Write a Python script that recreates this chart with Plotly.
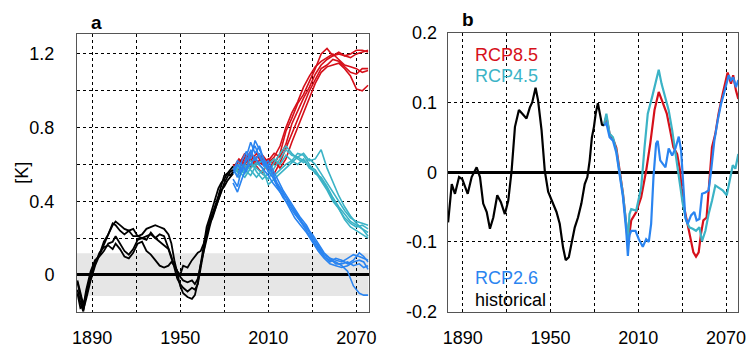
import plotly.graph_objects as go

# ---------------- Panel a data ----------------
hist_years = [1880, 1882, 1884, 1886, 1889, 1892, 1895, 1898, 1901, 1904, 1906, 1909, 1912, 1915,
              1918, 1921, 1924, 1927, 1930, 1933, 1936, 1939, 1942, 1944, 1946, 1948, 1950, 1952,
              1955, 1958, 1960, 1962, 1964, 1966, 1968, 1970, 1972, 1974, 1976, 1978, 1980, 1982,
              1984, 1986]
hist_m1 = [-0.04, -0.12, -0.19, -0.13, -0.03, 0.05, 0.11, 0.16, 0.22, 0.27, 0.29, 0.27, 0.25, 0.24,
           0.25, 0.21, 0.22, 0.25, 0.26, 0.27, 0.26, 0.25, 0.22, 0.17, 0.08, 0.00, -0.06, -0.10,
           -0.12, -0.13, -0.11, -0.04, 0.06, 0.17, 0.26, 0.31, 0.36, 0.42, 0.47, 0.50, 0.52, 0.55,
           0.57, 0.59]
hist_m2 = [-0.08, -0.15, -0.20, -0.10, 0.00, 0.07, 0.11, 0.18, 0.22, 0.28, 0.27, 0.24, 0.22, 0.24,
           0.21, 0.21, 0.20, 0.21, 0.22, 0.20, 0.22, 0.21, 0.15, 0.10, 0.04, -0.02, -0.05, -0.07,
           -0.09, -0.07, -0.08, -0.05, 0.04, 0.14, 0.22, 0.29, 0.33, 0.38, 0.43, 0.49, 0.54, 0.55,
           0.54, 0.56]
hist_m3 = [-0.10, -0.18, -0.17, -0.08, 0.02, 0.08, 0.10, 0.13, 0.17, 0.18, 0.21, 0.17, 0.13, 0.11,
           0.14, 0.19, 0.20, 0.19, 0.23, 0.20, 0.18, 0.16, 0.14, 0.09, 0.05, 0.02, -0.01, -0.03,
           -0.04, -0.03, -0.05, -0.02, 0.06, 0.13, 0.20, 0.26, 0.32, 0.36, 0.40, 0.45, 0.50, 0.53,
           0.56, 0.57]
hist_m4 = [-0.03, -0.10, -0.16, -0.11, -0.01, 0.06, 0.12, 0.15, 0.16, 0.14, 0.17, 0.14, 0.10, 0.09,
           0.12, 0.17, 0.18, 0.13, 0.11, 0.08, 0.05, 0.04, 0.05, 0.07, 0.05, 0.02, 0.00, 0.05,
           0.04, 0.08, 0.10, 0.12, 0.13, 0.17, 0.23, 0.28, 0.31, 0.36, 0.42, 0.46, 0.48, 0.51,
           0.53, 0.55]

proj_years = [1986, 1990, 1994, 1998, 2002, 2006, 2010, 2014, 2018, 2022, 2026, 2030, 2034, 2038,
              2042, 2046, 2050, 2054, 2058, 2062, 2066, 2070, 2074, 2078]
rcp85_m1 = [0.58, 0.63, 0.60, 0.65, 0.62, 0.60, 0.63, 0.60, 0.66, 0.78, 0.85, 0.93, 0.98, 1.05,
            1.12, 1.20, 1.23, 1.19, 1.20, 1.19, 1.18, 1.20, 1.21, 1.22]
rcp85_m2 = [0.56, 0.60, 0.66, 0.58, 0.64, 0.63, 0.57, 0.62, 0.58, 0.63, 0.72, 0.80, 0.87, 0.96,
            1.04, 1.10, 1.13, 1.14, 1.15, 1.12, 1.08, 1.01, 1.00, 1.03]
rcp85_m3 = [0.60, 0.55, 0.62, 0.67, 0.60, 0.65, 0.61, 0.64, 0.70, 0.80, 0.88, 0.94, 1.02, 1.08,
            1.13, 1.16, 1.18, 1.20, 1.17, 1.14, 1.13, 1.12, 1.10, 1.11]
rcp85_m4 = [0.57, 0.62, 0.58, 0.63, 0.59, 0.55, 0.62, 0.66, 0.64, 0.71, 0.82, 0.89, 0.96, 1.02,
            1.09, 1.14, 1.17, 1.19, 1.21, 1.19, 1.20, 1.22, 1.22, 1.21]
rcp85_m5 = [0.59, 0.57, 0.64, 0.62, 0.66, 0.60, 0.59, 0.55, 0.61, 0.69, 0.77, 0.84, 0.92, 1.00,
            1.06, 1.12, 1.14, 1.17, 1.16, 1.13, 1.10, 1.09, 1.12, 1.12]

rcp45_m1 = [0.56, 0.58, 0.55, 0.60, 0.58, 0.55, 0.52, 0.58, 0.63, 0.68, 0.65, 0.64, 0.66, 0.62,
            0.63, 0.68, 0.58, 0.50, 0.43, 0.37, 0.32, 0.28, 0.25, 0.21]
rcp45_m2 = [0.58, 0.55, 0.60, 0.57, 0.53, 0.57, 0.60, 0.63, 0.60, 0.65, 0.62, 0.66, 0.65, 0.60,
            0.55, 0.53, 0.48, 0.42, 0.37, 0.33, 0.29, 0.27, 0.25, 0.23]
rcp45_m3 = [0.55, 0.60, 0.57, 0.54, 0.60, 0.62, 0.56, 0.54, 0.57, 0.60, 0.62, 0.60, 0.63, 0.58,
            0.56, 0.51, 0.46, 0.40, 0.36, 0.31, 0.28, 0.26, 0.27, 0.25]
rcp45_m4 = [0.57, 0.53, 0.58, 0.62, 0.56, 0.52, 0.55, 0.61, 0.66, 0.70, 0.66, 0.63, 0.61, 0.63,
            0.60, 0.55, 0.50, 0.45, 0.40, 0.35, 0.31, 0.29, 0.28, 0.27]
rcp45_m5 = [0.59, 0.56, 0.53, 0.58, 0.61, 0.58, 0.49, 0.52, 0.55, 0.58, 0.61, 0.64, 0.62, 0.59,
            0.57, 0.52, 0.47, 0.41, 0.36, 0.30, 0.26, 0.24, 0.22, 0.20]

rcp26_years = [1986, 1989, 1992, 1995, 1998, 2001, 2004, 2007, 2010, 2013, 2016, 2020, 2024, 2028,
               2032, 2036, 2040, 2044, 2048, 2052, 2056, 2060, 2064, 2068, 2072, 2075, 2078]
rcp26_m1 = [0.52, 0.48, 0.58, 0.62, 0.66, 0.70, 0.64, 0.60, 0.62, 0.57, 0.52, 0.46, 0.41, 0.36,
            0.31, 0.27, 0.21, 0.15, 0.10, 0.08, 0.07, 0.05, 0.02, -0.06, -0.10, -0.11, -0.11]
rcp26_m2 = [0.55, 0.60, 0.56, 0.64, 0.72, 0.66, 0.70, 0.62, 0.56, 0.53, 0.48, 0.42, 0.38, 0.33,
            0.29, 0.24, 0.19, 0.14, 0.10, 0.07, 0.09, 0.08, 0.06, 0.08, 0.12, 0.10, 0.07]
rcp26_m3 = [0.58, 0.53, 0.62, 0.67, 0.63, 0.73, 0.68, 0.63, 0.58, 0.55, 0.50, 0.45, 0.39, 0.35,
            0.30, 0.25, 0.22, 0.17, 0.12, 0.09, 0.06, 0.06, 0.07, 0.05, 0.06, 0.04, 0.05]
rcp26_m4 = [0.50, 0.45, 0.52, 0.58, 0.60, 0.64, 0.60, 0.57, 0.54, 0.50, 0.47, 0.43, 0.37, 0.31,
            0.27, 0.23, 0.18, 0.13, 0.09, 0.06, 0.05, 0.04, 0.05, 0.07, 0.08, 0.07, 0.03]
rcp26_m5 = [0.56, 0.62, 0.60, 0.56, 0.68, 0.62, 0.66, 0.59, 0.60, 0.54, 0.49, 0.44, 0.40, 0.34,
            0.29, 0.26, 0.20, 0.16, 0.11, 0.09, 0.08, 0.07, 0.09, 0.11, 0.10, 0.09, 0.08]

band_low, band_high = -0.115, 0.118

# ---------------- Panel b data ----------------
hist_b_years = [1880, 1882.5, 1884.7, 1887.5, 1889.7, 1893.4, 1896.1, 1899.5, 1901.8, 1904,
                1906.4, 1908.6, 1910.9, 1913.6, 1916.1, 1918.8, 1921.1, 1923.4, 1925.7, 1928.4,
                1930.6, 1933.6, 1935.9, 1937.5, 1939.8, 1941.5, 1943.9, 1946.1, 1948.4, 1951.1,
                1954.1, 1956.3, 1958.6, 1960.4, 1962.5, 1964.3, 1966.6, 1968.8, 1971.1, 1973.4,
                1975.2, 1976.8, 1978.3, 1979.7, 1980.9, 1982.4, 1983.8, 1985.2, 1986.5]
hist_b = [-0.072, -0.017, -0.031, -0.007, -0.010, -0.031, -0.007, 0.007, -0.007, -0.045,
          -0.057, -0.081, -0.065, -0.033, -0.043, -0.060, -0.041, 0.002, 0.065, 0.089,
          0.084, 0.077, 0.093, 0.100, 0.121, 0.103, 0.060, 0.002, -0.028, -0.041,
          -0.057, -0.074, -0.108, -0.126, -0.122, -0.103, -0.079, -0.065, -0.045, -0.017,
          -0.007, 0.017, 0.050, 0.065, 0.084, 0.099, 0.084, 0.068, 0.067]

rcp85_b_years = [1986.5, 1988.2, 1990.4, 1992.7, 1995, 1997.2, 1999.5, 2001.8, 2002.9, 2005.2,
                 2008.6, 2012, 2015.4, 2018.2, 2021.1, 2024, 2026.8, 2029.5, 2031.8, 2034,
                 2036.6, 2038.6, 2040.4, 2043.1, 2045.4, 2047.7, 2049.5, 2051.3, 2052.9, 2054.5,
                 2056.7, 2058.6, 2060.4, 2062.7, 2064.9, 2067.7, 2071.1, 2073.4, 2074.9, 2076.8,
                 2078.4]
rcp85_b = [0.067, 0.080, 0.055, 0.048, 0.035, 0.005, -0.030, -0.075, -0.105, -0.069,
           -0.057, -0.036, 0.002, 0.041, 0.089, 0.115, 0.100, 0.084, 0.060, 0.036,
           0.026, 0.002, -0.041, -0.069, -0.088, -0.115, -0.121, -0.115, -0.088, -0.069,
           -0.065, -0.017, 0.036, 0.055, 0.084, 0.112, 0.143, 0.127, 0.139, 0.117,
           0.105]

rcp45_b_years = [1986.5, 1988.2, 1990.4, 1992.7, 1995, 1997.2, 1999.5, 2001.8, 2002.9, 2004,
                 2005.2, 2008.6, 2012, 2014.3, 2016.5, 2019.5, 2022.2, 2024, 2025.9, 2028.6,
                 2030.8, 2033.2, 2035.9, 2038.1, 2040.4, 2042.7, 2044.9, 2047.2, 2049.5, 2051.8,
                 2053.6, 2055.9, 2058.1, 2060.4, 2062.7, 2064.9, 2067.7, 2070.5, 2072.3, 2074.6,
                 2076.4, 2078.4]
rcp45_b = [0.067, 0.084, 0.055, 0.050, 0.031, 0.002, -0.031, -0.075, -0.100, -0.060,
           -0.053, -0.055, -0.022, 0.036, 0.084, 0.108, 0.132, 0.147, 0.127, 0.108,
           0.089, 0.060, 0.022, -0.007, -0.045, -0.069, -0.079, -0.081, -0.084, -0.079,
           -0.099, -0.084, -0.060, -0.041, -0.019, -0.022, -0.026, -0.033, -0.014, 0.010,
           0.005, 0.026]

rcp26_b_years = [1986.5, 1988.2, 1990.4, 1992.7, 1995, 1997.2, 1999.5, 2001.8, 2002.9, 2004,
                 2005.2, 2008.1, 2010.4, 2013.1, 2015.4, 2017.2, 2018.8, 2020.4, 2022.2, 2023.3,
                 2025, 2026.8, 2028.6, 2030.8, 2033.2, 2035.4, 2037.7, 2039.3, 2040.9, 2042.2,
                 2043.8, 2046.1, 2048.3, 2049.9, 2051.8, 2053.6, 2055.9, 2058.1, 2059.8, 2062,
                 2064.3, 2066.6, 2069.5, 2071.8, 2073.4, 2074.9, 2076.8, 2078.4]
rcp26_b = [0.067, 0.070, 0.050, 0.045, 0.028, 0.000, -0.035, -0.085, -0.120, -0.090,
           -0.084, -0.084, -0.096, -0.107, -0.096, -0.100, -0.074, -0.007, 0.041, 0.045,
           0.017, 0.012, 0.007, 0.034, 0.024, 0.034, 0.051, 0.031, -0.017, -0.065,
           -0.074, -0.062, -0.057, -0.069, -0.067, -0.031, -0.029, -0.026, 0.002, 0.045,
           0.074, 0.098, 0.120, 0.139, 0.132, 0.136, 0.122, 0.132]

x_tick_vals = [1890, 1950, 2010, 2070]
a_tick_vals = [0, 0.4, 0.8, 1.2]
a_tick_text = ["0", "0.4", "0.8", "1.2"]
b_tick_vals = [-0.2, -0.1, 0, 0.1, 0.2]
b_tick_text = ["-0.2", "-0.1", "0", "0.1", "0.2"]

RED = "#D6101A"
TEAL = "#3BB3C6"
BLUE = "#2A84F0"
BLACK = "#000000"

FONT = "Liberation Sans, Arial, sans-serif"

fig = go.Figure()

def add(x, y, color, xa, ya, width=1.6):
    fig.add_trace(go.Scatter(x=x, y=y, mode="lines", line=dict(color=color, width=width),
                             xaxis=xa, yaxis=ya, showlegend=False, hoverinfo="skip"))

for m in [rcp85_m1, rcp85_m2, rcp85_m3, rcp85_m4, rcp85_m5]:
    add(proj_years, m, RED, "x", "y")
for m in [rcp45_m1, rcp45_m2, rcp45_m3, rcp45_m4, rcp45_m5]:
    add(proj_years, m, TEAL, "x", "y")
for m in [rcp26_m1, rcp26_m2, rcp26_m3, rcp26_m4, rcp26_m5]:
    add(rcp26_years, m, BLUE, "x", "y")
for m in [hist_m1, hist_m2, hist_m3, hist_m4]:
    add(hist_years, m, BLACK, "x", "y", 1.8)

add(rcp85_b_years, rcp85_b, RED, "x2", "y2", 2.2)
add(rcp45_b_years, rcp45_b, TEAL, "x2", "y2", 2.2)
add(rcp26_b_years, rcp26_b, BLUE, "x2", "y2", 2.2)
add(hist_b_years, hist_b, BLACK, "x2", "y2", 2.2)

XR = [1879.7, 2078.4]

def xaxis(domain, anchor):
    return dict(domain=domain, anchor=anchor, range=XR, tickmode="array", tickvals=x_tick_vals,
                ticktext=[str(v) for v in x_tick_vals], showgrid=True, gridcolor="black",
                griddash="dot", gridwidth=1, showline=True, mirror=True, linecolor="#555",
                linewidth=1, zeroline=False, ticks="", ticklabelstandoff=10, automargin=False,
                tickfont=dict(family=FONT, size=18, color="black"),
                minor=dict(tickmode="linear", tick0=1890, dtick=30, showgrid=True,
                           gridcolor="black", griddash="dot", gridwidth=1, ticks=""))

fig.update_layout(
    width=752, height=347, margin=dict(l=0, r=0, t=0, b=0, autoexpand=False),
    paper_bgcolor="white", plot_bgcolor="white",
    font=dict(family=FONT, size=18, color="black"),
    xaxis=xaxis([0.1024, 0.4903], "y"),
    xaxis2=xaxis([0.5953, 0.9818], "y2"),
    yaxis=dict(domain=[0.1017, 0.9029], anchor="x", range=[-0.2, 1.31], tickmode="array",
               tickvals=a_tick_vals, ticktext=a_tick_text, showgrid=True, gridcolor="black",
               griddash="dot", gridwidth=1, showline=True, mirror=True, linecolor="#555",
               linewidth=1, zeroline=True, zerolinecolor="black", zerolinewidth=2.5,
               ticks="", ticklabelstandoff=18, automargin=False,
               tickfont=dict(family=FONT, size=18, color="black"),
               minor=dict(tickmode="linear", tick0=0, dtick=0.2, showgrid=True, gridcolor="black",
                          griddash="dot", gridwidth=1, ticks="")),
    yaxis2=dict(domain=[0.1017, 0.9058], anchor="x2", range=[-0.2, 0.2], tickmode="array",
                tickvals=b_tick_vals, ticktext=b_tick_text, showgrid=True, gridcolor="black",
                griddash="dot", gridwidth=1, showline=True, mirror=True, linecolor="#555",
                linewidth=1, zeroline=True, zerolinecolor="black", zerolinewidth=2.5,
                ticks="", ticklabelstandoff=6, automargin=False,
                tickfont=dict(family=FONT, size=18, color="black")),
    shapes=[dict(type="rect", xref="x", yref="y", x0=XR[0], x1=XR[1], y0=band_low, y1=band_high,
                 fillcolor="#e6e6e6", line=dict(width=0), layer="below")],
    annotations=[
        dict(text="<b>a</b>", x=0.1286, y=0.9346, xref="paper", yref="paper", showarrow=False,
             font=dict(family=FONT, size=19, color="black"), xanchor="center", yanchor="middle"),
        dict(text="<b>b</b>", x=0.6223, y=0.9424, xref="paper", yref="paper", showarrow=False,
             font=dict(family=FONT, size=19, color="black"), xanchor="center", yanchor="middle"),
        dict(text="[K]", x=0.0289, y=0.5014, xref="paper", yref="paper", showarrow=False,
             textangle=-90, font=dict(family=FONT, size=18, color="black"),
             xanchor="center", yanchor="middle"),
        dict(text="RCP8.5", x=0.6286, y=0.8415, xref="paper", yref="paper", showarrow=False,
             font=dict(family=FONT, size=18, color=RED), xanchor="left", yanchor="middle"),
        dict(text="RCP4.5", x=0.6286, y=0.781, xref="paper", yref="paper", showarrow=False,
             font=dict(family=FONT, size=18, color=TEAL), xanchor="left", yanchor="middle"),
        dict(text="RCP2.6", x=0.6286, y=0.1988, xref="paper", yref="paper", showarrow=False,
             font=dict(family=FONT, size=18, color=BLUE), xanchor="left", yanchor="middle"),
        dict(text="historical", x=0.6286, y=0.1354, xref="paper", yref="paper", showarrow=False,
             font=dict(family=FONT, size=18, color="black"), xanchor="left", yanchor="middle"),
    ],
)

fig.write_html("out.html", config={"displayModeBar": False},
               post_script="document.body.style.margin='0';"
                           "document.documentElement.style.overflow='hidden';")
